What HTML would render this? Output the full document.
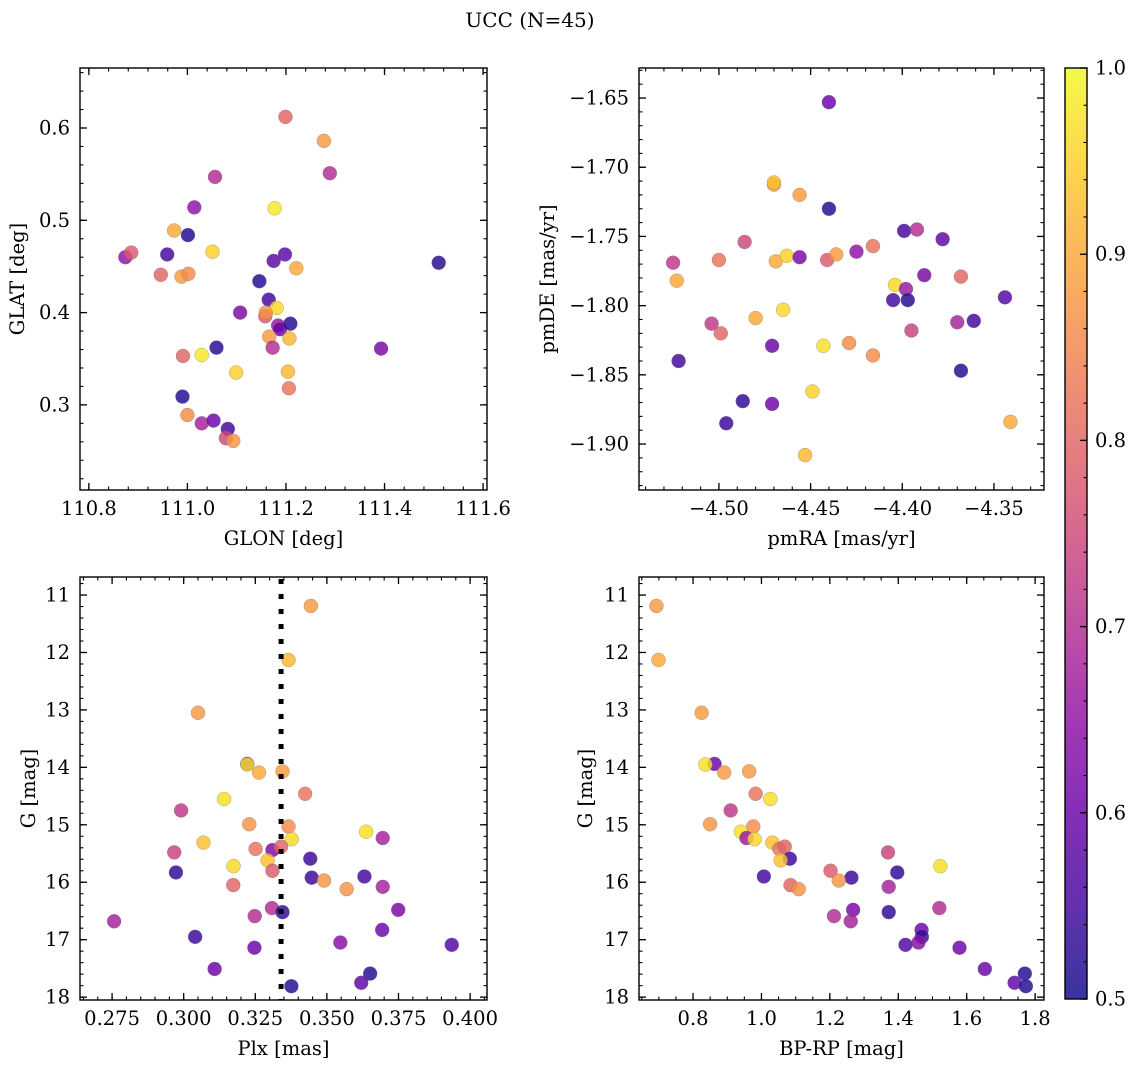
<!DOCTYPE html>
<html><head><meta charset="utf-8"><style>
body{margin:0;background:#fff;}
svg{display:block;font-family:"DejaVu Serif","Liberation Serif",serif;}
</style></head><body>
<svg id="fig" width="1136" height="1067" viewBox="0 0 1136 1067">
<text x="530" y="27" font-size="20" text-anchor="middle">UCC (N=45)</text>
</svg>
<script>
// Panel 1: GLON vs GLAT
const glon = [111.199,111.277,111.289,111.056,111.014,111.177,110.973,111.001,110.874,110.886,110.959,111.051,111.175,111.198,111.221,111.510,110.946,110.988,111.002,111.146,111.165,111.181,111.107,111.158,111.159,111.184,111.188,111.209,111.166,111.207,111.173,111.059,111.393,110.991,111.029,111.099,111.204,111.206,110.990,111.000,111.029,111.053,111.082,111.078,111.093];
const glat = [0.612,0.586,0.551,0.547,0.514,0.513,0.489,0.484,0.460,0.465,0.463,0.466,0.456,0.463,0.448,0.454,0.441,0.439,0.442,0.434,0.414,0.405,0.400,0.396,0.400,0.386,0.382,0.388,0.374,0.372,0.362,0.362,0.361,0.353,0.354,0.335,0.336,0.318,0.309,0.289,0.280,0.283,0.274,0.264,0.261];
const prob1 = [0.8,0.88,0.7,0.7,0.65,0.98,0.9,0.52,0.65,0.78,0.55,0.95,0.58,0.58,0.9,0.52,0.8,0.88,0.86,0.52,0.55,0.96,0.62,0.78,0.87,0.66,0.6,0.52,0.88,0.92,0.7,0.52,0.62,0.8,0.98,0.95,0.92,0.82,0.52,0.86,0.68,0.6,0.55,0.75,0.87];
// Panel 2: pmRA vs pmDE
const pmra = [-4.440,-4.470,-4.470,-4.456,-4.440,-4.399,-4.392,-4.378,-4.486,-4.416,-4.525,-4.500,-4.469,-4.463,-4.456,-4.441,-4.436,-4.425,-4.523,-4.388,-4.368,-4.404,-4.398,-4.405,-4.397,-4.344,-4.465,-4.480,-4.504,-4.499,-4.370,-4.361,-4.395,-4.471,-4.443,-4.429,-4.416,-4.522,-4.368,-4.449,-4.487,-4.471,-4.496,-4.341,-4.453];
const pmde = [-1.653,-1.7125,-1.711,-1.720,-1.730,-1.746,-1.745,-1.752,-1.754,-1.757,-1.769,-1.767,-1.768,-1.764,-1.765,-1.767,-1.763,-1.761,-1.782,-1.778,-1.779,-1.785,-1.788,-1.796,-1.796,-1.794,-1.803,-1.809,-1.813,-1.820,-1.812,-1.811,-1.818,-1.829,-1.829,-1.827,-1.836,-1.840,-1.847,-1.862,-1.869,-1.871,-1.885,-1.884,-1.908];
const prob2 = [0.6,0.88,0.93,0.88,0.52,0.55,0.7,0.58,0.75,0.82,0.72,0.82,0.9,0.95,0.62,0.78,0.88,0.65,0.9,0.62,0.8,0.96,0.66,0.55,0.52,0.57,0.96,0.9,0.72,0.8,0.68,0.55,0.74,0.6,0.97,0.86,0.86,0.55,0.52,0.95,0.53,0.6,0.54,0.9,0.92];
// Panel 3: Plx vs G
const plx = [0.3444,0.3366,0.3050,0.3222,0.3222,0.3263,0.3345,0.3424,0.3141,0.2991,0.3229,0.3366,0.3637,0.3695,0.3069,0.3377,0.2967,0.3251,0.3310,0.3340,0.3293,0.3174,0.3442,0.3310,0.2973,0.3447,0.3490,0.3631,0.3695,0.3173,0.3569,0.3308,0.3345,0.3749,0.3248,0.2757,0.3693,0.3040,0.3547,0.3936,0.3247,0.3108,0.3651,0.3620,0.3376];
const gmag3 = [11.19,12.13,13.05,13.94,13.95,14.09,14.07,14.46,14.55,14.75,14.99,15.03,15.12,15.23,15.31,15.25,15.48,15.42,15.44,15.38,15.62,15.72,15.59,15.80,15.83,15.92,15.97,15.90,16.08,16.05,16.12,16.45,16.52,16.48,16.59,16.68,16.83,16.95,17.05,17.09,17.14,17.51,17.59,17.75,17.81];
const prob3 = [0.88,0.92,0.88,0.6,0.97,0.9,0.88,0.82,0.97,0.72,0.87,0.86,0.97,0.68,0.93,0.96,0.74,0.82,0.62,0.8,0.93,0.96,0.54,0.78,0.53,0.54,0.87,0.55,0.68,0.8,0.87,0.7,0.53,0.62,0.7,0.68,0.6,0.54,0.64,0.57,0.6,0.6,0.52,0.58,0.52];
const plxLine = 0.334;
// Panel 4: BP-RP vs G
const bprp = [0.693,0.699,0.825,0.863,0.836,0.891,0.964,0.983,1.026,0.910,0.850,0.976,0.940,0.956,0.980,1.032,1.052,1.068,1.370,1.083,1.056,1.523,1.202,1.397,1.263,1.007,1.226,1.372,1.085,1.109,1.520,1.372,1.268,1.212,1.261,1.468,1.469,1.459,1.421,1.579,1.653,1.770,1.740,1.773];
const gmag4 = [11.19,12.13,13.05,13.94,13.95,14.09,14.07,14.46,14.55,14.75,14.99,15.03,15.12,15.23,15.25,15.31,15.42,15.38,15.48,15.59,15.62,15.72,15.80,15.83,15.92,15.90,15.97,16.08,16.05,16.12,16.45,16.52,16.48,16.59,16.68,16.83,16.95,17.05,17.09,17.14,17.51,17.59,17.75,17.81];
const prob4 = [0.88,0.9,0.88,0.6,0.97,0.88,0.88,0.82,0.97,0.72,0.87,0.86,0.97,0.66,0.96,0.93,0.82,0.8,0.74,0.54,0.93,0.97,0.78,0.53,0.54,0.55,0.87,0.68,0.8,0.87,0.7,0.53,0.62,0.7,0.68,0.6,0.54,0.64,0.57,0.6,0.6,0.52,0.58,0.52];
const ticks1x = [110.8,111.0,111.2,111.4,111.6];
const ticks1y = [0.3,0.4,0.5,0.6];
const ticks2x = [-4.50,-4.45,-4.40,-4.35];
const ticks2y = [-1.90,-1.85,-1.80,-1.75,-1.70,-1.65];
const ticks3x = [0.275,0.300,0.325,0.350,0.375,0.400];
const ticksGy = [11,12,13,14,15,16,17,18];
const ticks4x = [0.8,1.0,1.2,1.4,1.6,1.8];
const ticksCb = [0.5,0.6,0.7,0.8,0.9,1.0];

const NS='http://www.w3.org/2000/svg';
const svg=document.getElementById('fig');
const FS=19.5;
const plasma=['#0d0887','#41049d','#6a00a8','#8f0da4','#b12a90','#cc4778','#e16462','#f2844b','#fca636','#fcce25','#f0f921'];
function hex(h){return [1,3,5].map(i=>parseInt(h.substr(i,2),16));}
function cmap(v){let t=Math.max(0,Math.min(1,(v-0.5)/0.5))*10;let i=Math.min(9,Math.floor(t));let f=t-i;let a=hex(plasma[i]),b=hex(plasma[i+1]);return 'rgb('+a.map((x,k)=>Math.round(x+(b[k]-x)*f)).join(',')+')';}
function mk(tag,attrs,parent){const e=document.createElementNS(NS,tag);for(const k in attrs)e.setAttribute(k,attrs[k]);(parent||svg).appendChild(e);return e;}
function fmt(v,d){return (v<0?'\u2212':'')+Math.abs(v).toFixed(d);}

function panel(o){
  const g=mk('g',{});
  
  
  const sx=v=>o.L+(v-o.xlim[0])/(o.xlim[1]-o.xlim[0])*(o.R-o.L);
  const sy=v=>o.inv? o.T+(v-o.ylim[0])/(o.ylim[1]-o.ylim[0])*(o.B-o.T) : o.B-(v-o.ylim[0])/(o.ylim[1]-o.ylim[0])*(o.B-o.T);
  const pg=mk('g',{},g);
  
  
  for(let i=0;i<o.xs.length;i++){
    const c=mk('circle',{cx:sx(o.xs[i]),cy:sy(o.ys[i]),r:7,fill:cmap(o.cs[i]),'fill-opacity':0.82,stroke:'#777','stroke-width':0.5,'stroke-opacity':0.6},pg);
    
    
  }
  if(o.vline!==undefined){
    const l=mk('line',{x1:sx(o.vline),x2:sx(o.vline),y1:o.T+2,y2:o.B,stroke:'#000','stroke-width':5,'stroke-dasharray':'5 10'},g);
    
    
  }
  const mt=(a,b,step)=>{const r=[];let s=Math.ceil(a/step-1e-6);for(let k=s;k*step<=b+1e-9;k++)r.push(k*step);return r;};
  for(const v of mt(o.xlim[0],o.xlim[1],o.xminor)){const x=sx(v);mk('line',{x1:x,x2:x,y1:o.B,y2:o.B-3.5,stroke:'#000','stroke-width':1.1},g);mk('line',{x1:x,x2:x,y1:o.T,y2:o.T+3.5,stroke:'#000','stroke-width':1.1},g);}
  for(const v of mt(Math.min(...o.ylim),Math.max(...o.ylim),o.yminor)){const y=sy(v);mk('line',{x1:o.L,x2:o.L+3.5,y1:y,y2:y,stroke:'#000','stroke-width':1.1},g);mk('line',{x1:o.R,x2:o.R-3.5,y1:y,y2:y,stroke:'#000','stroke-width':1.1},g);}
  for(const v of o.xt){const x=sx(v);mk('line',{x1:x,x2:x,y1:o.B,y2:o.B-7,stroke:'#000','stroke-width':1.3},g);mk('line',{x1:x,x2:x,y1:o.T,y2:o.T+7,stroke:'#000','stroke-width':1.3},g);
    const t=mk('text',{x:x,y:o.B+25,'font-size':FS,'text-anchor':'middle'},g);t.textContent=fmt(v,o.xd);
    
    }
  for(const v of o.yt){const y=sy(v);mk('line',{x1:o.L,x2:o.L+7,y1:y,y2:y,stroke:'#000','stroke-width':1.3},g);mk('line',{x1:o.R,x2:o.R-7,y1:y,y2:y,stroke:'#000','stroke-width':1.3},g);
    const t=mk('text',{x:o.L-10,y:y+6.5,'font-size':FS,'text-anchor':'end'},g);t.textContent=fmt(v,o.yd);
    
    }
  const fr=mk('rect',{x:o.L,y:o.T,width:o.R-o.L,height:o.B-o.T,fill:'none',stroke:'#000','stroke-width':1.4},g);
  
  
  const xl=mk('text',{x:(o.L+o.R)/2,y:o.B+55,'font-size':FS,'text-anchor':'middle'},g);xl.textContent=o.xlab;
  
  
  const yc=(o.T+o.B)/2;
  const yl=mk('text',{x:o.ylx,y:yc,'font-size':FS,'text-anchor':'middle',transform:'rotate(-90 '+o.ylx+' '+yc+')'},g);yl.textContent=o.ylab;
  
  
}
panel({name:'glon-glat-panel',L:80,R:487,T:68,B:490,xlim:[110.782,111.608],ylim:[0.2078,0.665],xs:glon,ys:glat,cs:prob1,xt:ticks1x,yt:ticks1y,xd:1,yd:1,xminor:0.04,yminor:0.02,xlab:'GLON [deg]',ylab:'GLAT [deg]',ylx:24});
panel({name:'pm-panel',L:639,R:1044,T:68,B:490,xlim:[-4.5436,-4.3227],ylim:[-1.9332,-1.6283],xs:pmra,ys:pmde,cs:prob2,xt:ticks2x,yt:ticks2y,xd:2,yd:2,xminor:0.01,yminor:0.01,xlab:'pmRA [mas/yr]',ylab:'pmDE [mas/yr]',ylx:554});
panel({name:'plx-g-panel',L:80,R:487,T:577,B:1000,xlim:[0.2638,0.4059],ylim:[10.686,18.05],inv:true,xs:plx,ys:gmag3,cs:prob3,xt:ticks3x,yt:ticksGy,xd:3,yd:0,xminor:0.005,yminor:0.2,xlab:'Plx [mas]',ylab:'G [mag]',ylx:35,vline:plxLine});
panel({name:'cmd-panel',L:639,R:1044,T:577,B:1000,xlim:[0.642,1.826],ylim:[10.686,18.05],inv:true,xs:bprp,ys:gmag4,cs:prob4,xt:ticks4x,yt:ticksGy,xd:1,yd:0,xminor:0.05,yminor:0.2,xlab:'BP-RP [mag]',ylab:'G [mag]',ylx:592});

const cb=mk('g',{});


const CL=1065,CR=1087,CT=68,CB=999;
const defs=mk('defs',{},cb);
const lg=mk('linearGradient',{id:'cbg',x1:0,y1:1,x2:0,y2:0},defs);
for(let k=0;k<=20;k++){mk('stop',{offset:k/20,'stop-color':cmap(0.5+k/40),'stop-opacity':0.82},lg);}
mk('rect',{x:CL,y:CT,width:CR-CL,height:CB-CT,fill:'url(#cbg)'},cb);
const cy=v=>CB-(v-0.5)/0.5*(CB-CT);
for(let k=0;k<=25;k++){const y=cy(0.5+k*0.02);mk('line',{x1:CR,x2:CR-3.5,y1:y,y2:y,stroke:'#000','stroke-width':1.1},cb);}
for(const v of ticksCb){const y=cy(v);mk('line',{x1:CR,x2:CR-7,y1:y,y2:y,stroke:'#000','stroke-width':1.3},cb);
  const t=mk('text',{x:CR+8,y:y+6.5,'font-size':FS},cb);t.textContent=v.toFixed(1);
  
  }
mk('rect',{x:CL,y:CT,width:CR-CL,height:CB-CT,fill:'none',stroke:'#000','stroke-width':1.4},cb);
</script>
</body></html>
